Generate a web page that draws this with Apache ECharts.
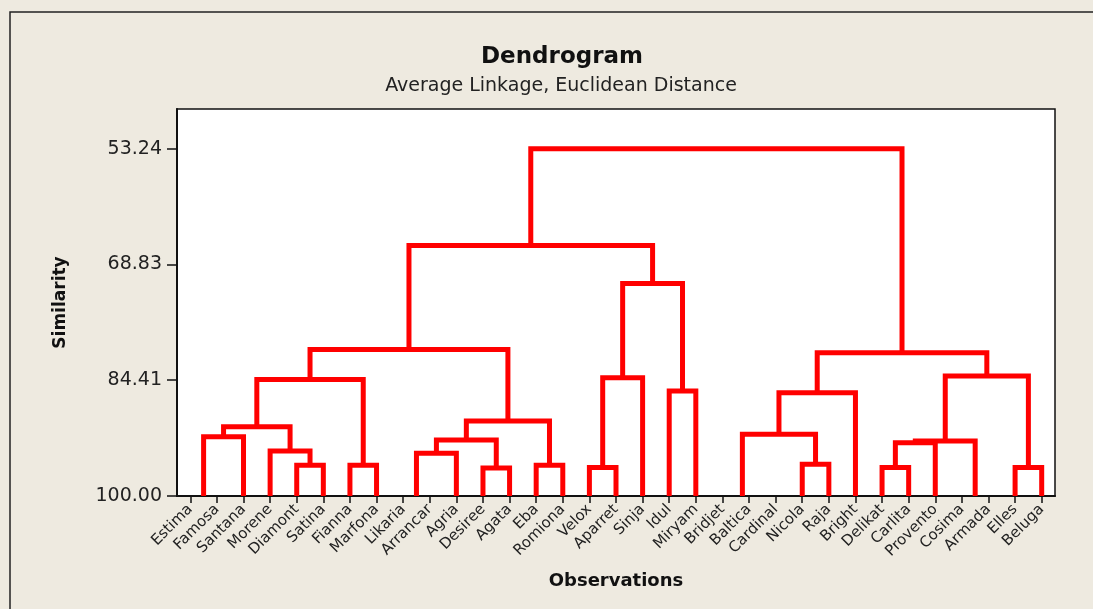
<!DOCTYPE html>
<html>
<head>
<meta charset="utf-8">
<script src="https://cdn.jsdelivr.net/npm/echarts@6/dist/echarts.min.js"></script>
<style>
html,body{margin:0;padding:0;background:#EEEAE0;}
#chart{width:1093px;height:609px;}
</style>
</head>
<body>
<div id="chart"></div>
<script>
// Observation labels (x axis)
const categories = ['Estima','Famosa','Santana','Morene','Diamont','Satina','Fianna','Marfona','Likaria','Arrancar','Agria','Desiree','Agata','Eba','Romiona','Velox','Aparret','Sinja','Idul','Miryam','Bridjet','Baltica','Cardinal','Nicola','Raja','Bright','Delikat','Carlita','Provento','Cosima','Armada','Elles','Beluga'];
// Y tick labels (similarity)
const yTicks = [53.24, 68.83, 84.41, 100.00];
// Leaf positions along the observation axis (node ids 0..27)
const leafPositions = [0.5, 2, 3, 4, 5, 6, 7, 8.5, 10, 11, 12, 13, 14, 15, 16, 17, 18, 19, 20.75, 23, 24, 25, 26, 27, 28, 29.5, 31, 32];
// Merges: [left node id, right node id, similarity]; merge k gets node id 28 + k
const merges = [
  [0, 1, 92.01],
  [3, 4, 95.87],
  [2, 29, 93.95],
  [28, 30, 90.67],
  [5, 6, 95.87],
  [31, 32, 84.31],
  [7, 8, 94.26],
  [9, 10, 96.23],
  [34, 35, 92.47],
  [11, 12, 95.87],
  [36, 37, 89.91],
  [33, 38, 80.27],
  [13, 14, 96.18],
  [40, 15, 84.08],
  [16, 17, 85.88],
  [41, 42, 71.40],
  [39, 43, 66.29],
  [19, 20, 95.74],
  [18, 45, 91.70],
  [46, 21, 86.09],
  [22, 23, 96.18],
  [48, 24, 92.82],
  [49, 25, 92.60],
  [26, 27, 96.18],
  [50, 51, 83.86],
  [47, 52, 80.72],
  [44, 53, 53.24]
];

// Build node positions / heights and link segments
const nodeX = leafPositions.slice();
const nodeY = leafPositions.map(() => 100);
const links = [];
merges.forEach(m => {
  const [a, b, h] = m;
  links.push([nodeX[a], nodeY[a], nodeX[b], nodeY[b], h]);
  nodeX.push((nodeX[a] + nodeX[b]) / 2);
  nodeY.push(h);
});

const chart = echarts.init(document.getElementById('chart'));
const FONT = 'DejaVu Sans';
chart.setOption({
  backgroundColor: '#EEEAE0',
  animation: false,
  title: [
    {text: 'Dendrogram', left: 557, top: 41, textAlign: 'center',
     textStyle: {fontFamily: FONT, fontSize: 23, fontWeight: 'bold', color: '#111'}},
    {text: 'Average Linkage, Euclidean Distance', left: 556, top: 72, textAlign: 'center',
     textStyle: {fontFamily: FONT, fontSize: 19, fontWeight: 'normal', color: '#222'}}
  ],
  graphic: [
    {type: 'rect', shape: {x: 10, y: 12, width: 1200, height: 700}, silent: true,
     style: {fill: 'none', stroke: '#222', lineWidth: 1.5}}
  ],
  grid: {left: 177, right: 38, top: 109, bottom: 113, show: true,
         backgroundColor: '#ffffff', borderColor: '#111', borderWidth: 1.5},
  xAxis: [
    {type: 'category', data: categories, boundaryGap: true, position: 'bottom',
     name: 'Observations', nameLocation: 'middle', nameGap: 76,
     nameTextStyle: {fontFamily: FONT, fontSize: 18, fontWeight: 'bold', color: '#111'},
     axisLine: {show: true, onZero: false, lineStyle: {color: '#111', width: 2}},
     axisTick: {show: true, interval: 0, alignWithLabel: true, length: 7, lineStyle: {color: '#111', width: 1.5}},
     axisLabel: {interval: 0, rotate: 45, margin: 11, fontFamily: FONT, fontSize: 15, color: '#222'},
     splitLine: {show: false}},
    {type: 'value', min: -0.5, max: 32.5, show: false}
  ],
  yAxis: {
    type: 'value', inverse: true, min: 47.9, max: 100,
    name: 'Similarity', nameLocation: 'middle', nameGap: 108, nameRotate: 90,
    nameTextStyle: {fontFamily: FONT, fontSize: 17, fontWeight: 'bold', color: '#111'},
    axisLine: {show: true, onZero: false, lineStyle: {color: '#111', width: 2}},
    axisTick: {show: true, length: 10, customValues: yTicks, lineStyle: {color: '#111', width: 1.5}},
    axisLabel: {customValues: yTicks, margin: 15, fontFamily: FONT, fontSize: 19, color: '#222',
                formatter: v => Number(v).toFixed(2)},
    splitLine: {show: false}
  },
  series: [{
    type: 'custom',
    xAxisIndex: 1,
    yAxisIndex: 0,
    data: links,
    encode: {x: [0, 2], y: [1, 3, 4]},
    clip: false,
    z: 1,
    renderItem: function (params, api) {
      const lx = api.value(0), ly = api.value(1), rx = api.value(2), ry = api.value(3), h = api.value(4);
      const pts = [api.coord([lx, ly]), api.coord([lx, h]), api.coord([rx, h]), api.coord([rx, ry])];
      return {type: 'polyline', shape: {points: pts},
              style: {stroke: '#FF0000', lineWidth: 5, fill: 'none', lineJoin: 'miter', lineCap: 'butt'}};
    }
  }]
});
</script>
</body>
</html>
